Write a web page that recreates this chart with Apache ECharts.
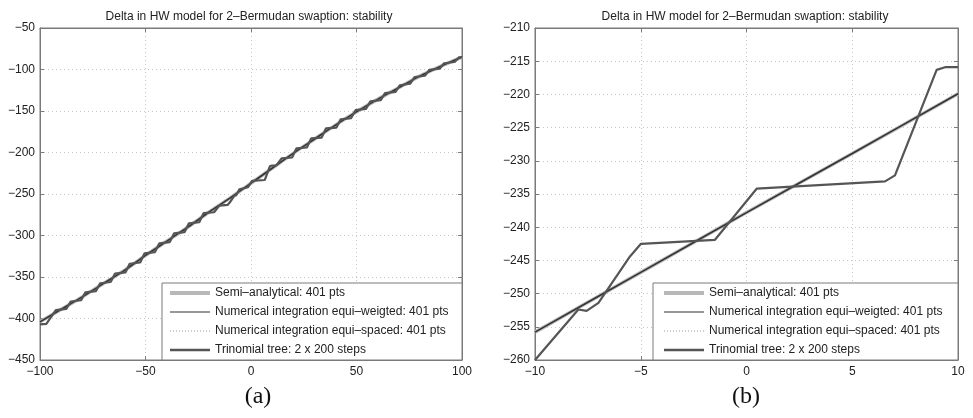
<!DOCTYPE html>
<html>
<head>
<meta charset="utf-8">
<script src="https://cdn.jsdelivr.net/npm/echarts@6/dist/echarts.min.js"></script>
<style>html,body{margin:0;padding:0;background:#fff}#c{width:973px;height:418px}</style>
</head>
<body>
<div id="c"></div>
<script>
// ---------- data ----------
const titleText = 'Delta in HW model for 2\u2013Bermudan swaption: stability';
const seriesNames = ['Semi\u2013analytical: 401 pts', 'Numerical integration equi\u2013weigted: 401 pts', 'Numerical integration equi\u2013spaced: 401 pts', 'Trinomial tree: 2 x 200 steps'];
const panelLabels = ['(a)', '(b)'];

// panel (a)
const semiAX = [-100,-90,-80,-70,-60,-50,-40,-30,-20,-10,0,10,20,30,40,50,60,70,80,90,100];
const semiAY = [-404,-389,-374,-358,-342,-324,-307,-290,-272,-255,-237,-219,-201,-184,-167,-151,-136,-122,-108,-96,-85];
const treeA = [[-100,-407],[-97,-406.5],[-92.5,-390],[-87.5,-388.5],[-85.5,-379.5],[-80.5,-378],
  [-78.5,-368.5],[-73.5,-367],[-71.5,-357.5],[-66.5,-356],[-64.5,-346],[-59.5,-344.5],
  [-57.5,-334],[-52.5,-332.5],[-50.5,-321.5],[-45.5,-320],[-43.5,-309.5],[-38.5,-308],
  [-36.5,-297.5],[-31.5,-296],[-29.5,-285.5],[-24.5,-284],[-22.5,-273],[-17.5,-272],
  [-15,-264],[-11,-263],[-10,-260],[-7.95,-252.4],[-7.56,-252.6],[-7,-251.4],[-5.51,-244.4],
  [-4.99,-242.5],[-1.49,-241.9],[0.48,-234.2],[6.55,-233.1],[7.02,-232.2],[8.99,-216.3],
  [9.39,-215.9],[10,-215.9],[12,-215.5],[14.5,-207],[19.5,-206],[21.5,-195],[26.5,-194],
  [28.5,-183],[33.5,-182],[35.5,-171],[40.5,-170],[42.5,-160],[47.5,-158.5],[49.5,-149],
  [54.5,-147.5],[56.5,-138.5],[61.5,-137],[63.5,-128.5],[68.5,-127],[70.5,-119],[75.5,-117],
  [77.5,-109],[82.5,-107.5],[84.5,-100.5],[89.5,-99],[91.5,-92.5],[96.5,-91],[98.5,-85.5],[100,-85]];

// panel (b)
const semiBX = [-10,-5,0,5,10];
const semiBY = [-255.8,-246.8,-237.8,-228.9,-219.9];
const treeB = [[-10,-260],[-7.95,-252.4],[-7.56,-252.6],[-7,-251.4],[-5.51,-244.4],[-4.99,-242.5],
  [-1.49,-241.9],[0.48,-234.2],[6.55,-233.1],[7.02,-232.2],[8.99,-216.3],[9.39,-215.9],[10,-215.9]];

// axis ranges
const axA = {xmin:-100, xmax:100, xstep:50, ymin:-450, ymax:-50, ystep:50};
const axB = {xmin:-10, xmax:10, xstep:5, ymin:-260, ymax:-210, ystep:5};

// ---------- chart ----------
const FONT = '"Liberation Sans", Arial, sans-serif';
const minus = v => String(v).replace('-', '\u2212');
const zip = (xs, ys) => xs.map((x, i) => [x, ys[i]]);

const styles = [
  {color: '#b8b8b8', width: 3.5, type: 'solid', z: 2},
  {color: '#333333', width: 1.6, type: 'solid', z: 4},
  {color: '#9a9a9a', width: 1, type: [1, 2], z: 3},
  {color: '#555555', width: 2.2, type: 'solid', z: 5}
];

function axisPair(ax, dim, gridIndex) {
  const base = {
    type: 'value', gridIndex: gridIndex,
    min: dim === 'x' ? ax.xmin : ax.ymin,
    max: dim === 'x' ? ax.xmax : ax.ymax,
    interval: dim === 'x' ? ax.xstep : ax.ystep,
    axisLine: {show: true, onZero: false, lineStyle: {color: '#7a7a7a', width: 1}},
    axisTick: {show: true, inside: true, length: 4, lineStyle: {color: '#7a7a7a'}}
  };
  const main = Object.assign({}, base, {
    position: dim === 'x' ? 'bottom' : 'left',
    axisLabel: {show: true, color: '#222', fontSize: 12, fontFamily: FONT, margin: dim === 'x' ? 6 : 5, formatter: minus},
    splitLine: {show: true, lineStyle: {color: '#c8c8c8', type: [1, 3], width: 1}}
  });
  const other = Object.assign({}, base, {
    position: dim === 'x' ? 'top' : 'right',
    axisLabel: {show: false},
    splitLine: {show: false}
  });
  return [main, other];
}

function seriesFor(semiData, treeData, xi, yi) {
  const datas = [semiData, semiData, semiData, treeData];
  return seriesNames.map((name, i) => ({
    name: name, type: 'line', xAxisIndex: xi, yAxisIndex: yi, data: datas[i], symbol: 'none',
    smooth: i < 3 ? 0.3 : false,
    lineStyle: {color: styles[i].color, width: styles[i].width, type: styles[i].type},
    itemStyle: {color: styles[i].color}, z: styles[i].z, silent: true
  }));
}

const xa = axisPair(axA, 'x', 0), ya = axisPair(axA, 'y', 0);
const xb = axisPair(axB, 'x', 1), yb = axisPair(axB, 'y', 1);

const legendItems = seriesNames.map((name, i) => ({
  name: name,
  itemStyle: {opacity: 0},
  lineStyle: {color: styles[i].color, width: i === 0 ? 4 : (i === 3 ? 2.6 : 1.2), type: styles[i].type, opacity: 1}
}));

const legendBase = {
  orient: 'vertical', data: legendItems, itemWidth: 40, itemHeight: 14, itemGap: 7, padding: 0,
  itemStyle: {opacity: 0},
  textStyle: {fontSize: 12, fontFamily: FONT, color: '#222'}, selectedMode: false, z: 10
};

const option = {
  animation: false,
  backgroundColor: '#fff',
  title: [
    {text: titleText, left: 244, top: 6, textAlign: 'center', textStyle: {fontSize: 12, fontWeight: 'normal', fontFamily: FONT, color: '#222'}},
    {text: titleText, left: 740, top: 6, textAlign: 'center', textStyle: {fontSize: 12, fontWeight: 'normal', fontFamily: FONT, color: '#222'}}
  ],
  grid: [
    {left: 40, top: 28, width: 422, height: 332, show: true, borderColor: '#7a7a7a', borderWidth: 1, backgroundColor: 'transparent'},
    {left: 535, top: 28, width: 423, height: 332, show: true, borderColor: '#7a7a7a', borderWidth: 1, backgroundColor: 'transparent'}
  ],
  xAxis: [xa[0], xa[1], xb[0], xb[1]],
  yAxis: [ya[0], ya[1], yb[0], yb[1]],
  legend: [
    Object.assign({}, legendBase, {left: 168, top: 287}),
    Object.assign({}, legendBase, {left: 662, top: 287})
  ],
  graphic: [
    {type: 'rect', shape: {x: 162, y: 283, width: 300, height: 77}, style: {fill: '#fff', stroke: '#7a7a7a', lineWidth: 1}, z: 8, silent: true},
    {type: 'rect', shape: {x: 653, y: 283, width: 305, height: 77}, style: {fill: '#fff', stroke: '#7a7a7a', lineWidth: 1}, z: 8, silent: true},
    {type: 'text', x: 258, y: 397, style: {text: panelLabels[0], font: '24px "Liberation Serif", "Times New Roman", serif', fill: '#111', textAlign: 'center', textVerticalAlign: 'middle'}},
    {type: 'text', x: 746, y: 397, style: {text: panelLabels[1], font: '24px "Liberation Serif", "Times New Roman", serif', fill: '#111', textAlign: 'center', textVerticalAlign: 'middle'}}
  ],
  series: [].concat(
    seriesFor(zip(semiAX, semiAY), treeA, 0, 0),
    seriesFor(zip(semiBX, semiBY), treeB, 2, 2)
  )
};

const chart = echarts.init(document.getElementById('c'), null, {renderer: 'canvas'});
chart.setOption(option);
</script>
</body>
</html>
